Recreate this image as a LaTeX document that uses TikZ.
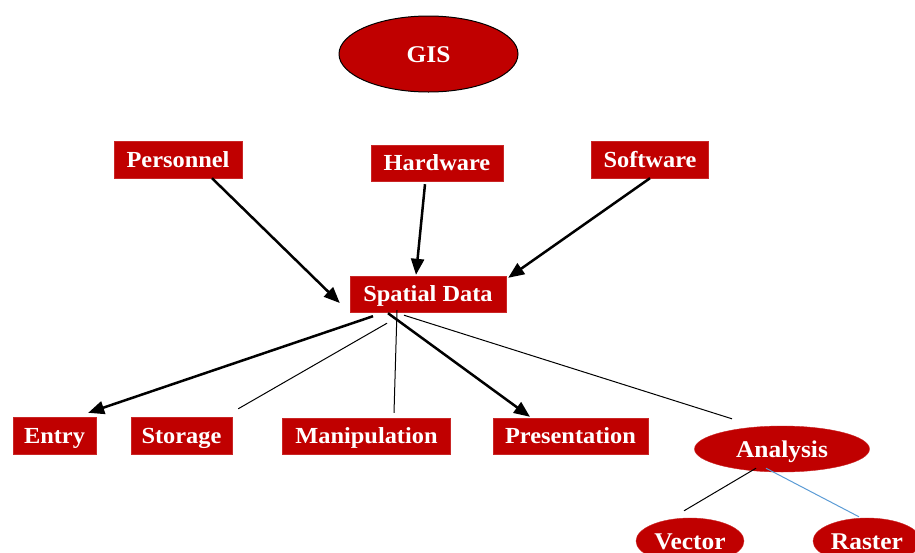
\documentclass[tikz,border=0pt]{standalone}
\usepackage{fontspec}
\setmainfont{Liberation Serif}[FakeStretch=1.06]
\usepackage{tikz}
\usetikzlibrary{shapes.geometric, arrows.meta, positioning}
\definecolor{gisred}{RGB}{192,0,0}
\definecolor{linkblue}{RGB}{91,155,213}

\begin{document}
\begin{tikzpicture}[
    x=1pt, y=-1pt,
    %% Styles
    box/.style={
      rectangle, fill=gisred, draw=gisred!85,
      minimum height=37pt, inner sep=0pt,
      text height=15pt, text depth=0pt,
      text=white, font=\fontsize{23}{27}\selectfont\bfseries
    },
    oval/.style={
      ellipse, fill=gisred, draw=gisred!85,
      minimum height=46pt, inner sep=0pt,
      text height=16pt, text depth=0pt,
      text=white, font=\fontsize{24}{28}\selectfont\bfseries
    },
    arrow/.style={-{Triangle[length=16pt, width=13pt]}, line width=2.5pt},
    link/.style={line width=1pt}
  ]

  \useasboundingbox (0,0) rectangle (915,552);
  \clip (0,0) rectangle (915,552);

  %% ── Top: GIS ─────────────────────────────────────────────
  \node[oval, draw=black, line width=1pt, minimum width=179pt, minimum height=76pt] (gis) at (428.5,54) {GIS};

  %% ── Row 1: components ───────────────────────────────────
  \node[box, minimum width=128pt] (pers) at (178,159.5) {Personnel};
  \node[box, minimum width=132pt, minimum height=36pt] (hw) at (437,163) {Hardware};
  \node[box, minimum width=117pt] (sw) at (650,159.5) {Software};

  %% ── Row 2: Spatial Data ─────────────────────────────────
  \node[box, minimum width=156pt, minimum height=36pt] (sd) at (428,294) {Spatial Data};

  %% ── Row 3: operations ───────────────────────────────────
  \node[box, minimum width=83pt] (entry) at (54.5,435.5) {Entry};
  \node[box, minimum width=101pt] (stor) at (181.5,435.5) {Storage};
  \node[box, minimum width=168pt, minimum height=36pt] (manip) at (366.5,436) {Manipulation};
  \node[box, minimum width=155pt, minimum height=36pt] (pres) at (570.5,436) {Presentation};
  \node[oval, minimum width=175pt] (ana) at (782,449) {Analysis};

  %% ── Row 4: data models ──────────────────────────────────
  \node[oval, minimum width=108pt] (vec) at (690,541) {Vector};
  \node[oval, minimum width=108pt] (ras) at (867,541) {Raster};

  %% ── Arrows ──────────────────────────────────────────────
  % components -> Spatial Data
  \draw[arrow] ([xshift=34pt]pers.south) -- ([xshift=-10pt, yshift=-9pt]sd.west);
  \draw[arrow] ([xshift=-12pt, yshift=-3pt]hw.south) -- ([xshift=-12pt, yshift=1pt]sd.north);
  \draw[arrow] (sw.south) -- ([xshift=2pt, yshift=-2pt]sd.north east);

  % Spatial Data -> operations
  \draw[arrow] ([xshift=-55pt, yshift=-4pt]sd.south) -- ([xshift=-8pt, yshift=4pt]entry.north east);
  \draw[link] ([xshift=-41pt, yshift=-11pt]sd.south) -- ([xshift=6pt, yshift=8pt]stor.north east);
  \draw[link] ([xshift=-31pt, yshift=2pt]sd.south) -- ([xshift=27.5pt, yshift=5pt]manip.north);
  \draw[arrow] ([xshift=-40pt, yshift=-1pt]sd.south) -- ([xshift=-40.5pt, yshift=1pt]pres.north);
  \draw[link] ([xshift=-24pt, yshift=-3pt]sd.south) -- ([xshift=-50pt, yshift=7pt]ana.north);

  % Analysis -> Vector / Raster
  \draw[link] ([xshift=-26pt, yshift=4pt]ana.south) -- ([xshift=-6pt, yshift=7pt]vec.north);
  \draw[link, draw=linkblue] ([xshift=-16pt, yshift=4pt]ana.south) -- ([xshift=-8pt, yshift=1pt]ras.north);

\end{tikzpicture}
\end{document}
